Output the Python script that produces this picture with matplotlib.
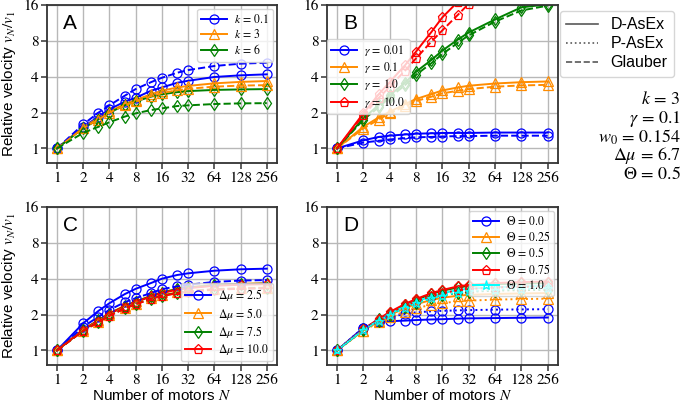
import numpy as np
import matplotlib
matplotlib.use("Agg")
import matplotlib.pyplot as plt
from matplotlib.lines import Line2D

plt.rcParams['mathtext.fontset'] = 'stix'
plt.rcParams['font.family'] = ['Liberation Sans', 'DejaVu Sans']

# ---------------- data ----------------
N = [1, 2, 3, 4, 6, 8, 12, 16, 24, 32, 64, 128, 256]
x_ticks = [1, 2, 4, 8, 16, 32, 64, 128, 256]
x_tick_labels = ['1', '2', '4', '8', '16', '32', '64', '128', '256']
y_ticks = [1, 2, 4, 8, 16]
y_tick_labels = ['1', '2', '4', '8', '16']

# Panel A (k)
A_labels = [r'$k \,=\, 0.1$', r'$k \,=\, 3$', r'$k \,=\, 6$']
A_solid = [
    [1, 1.51, 1.85, 2.13, 2.47, 2.66, 3.05, 3.25, 3.56, 3.70, 3.98, 4.11, 4.19],
    [1, 1.50, 1.80, 2.05, 2.35, 2.55, 2.85, 3.05, 3.25, 3.35, 3.52, 3.62, 3.68],
    [1, 1.48, 1.75, 2.00, 2.30, 2.48, 2.72, 2.85, 2.97, 3.03, 3.10, 3.13, 3.15],
]
A_dashed = [
    [1, 1.59, 2.00, 2.30, 2.77, 3.15, 3.60, 3.92, 4.32, 4.55, 4.92, 5.15, 5.24],
    [1, 1.48, 1.75, 2.00, 2.30, 2.48, 2.75, 2.92, 3.08, 3.17, 3.30, 3.37, 3.40],
    [1, 1.35, 1.52, 1.66, 1.85, 1.97, 2.10, 2.17, 2.27, 2.30, 2.36, 2.39, 2.40],
]

# Panel B (gamma)
nan = np.nan
B_labels = [r'$\gamma \,=\, 0.01$', r'$\gamma \,=\, 0.1$', r'$\gamma \,=\, 1.0$', r'$\gamma \,=\, 10.0$']
B_solid = [
    [1, 1.17, 1.25, 1.28, 1.31, 1.33, 1.34, 1.35, 1.35, 1.35, 1.36, 1.36, 1.36],
    [1, 1.52, 1.82, 2.03, 2.36, 2.60, 2.86, 3.07, 3.25, 3.36, 3.51, 3.60, 3.65],
    [1, 1.79, 2.31, 2.80, 3.56, 4.40, 5.53, 6.63, 8.20, 9.40, 12.1, 15.3, 16.2],
    [1, 1.97, 2.85, 3.60, 5.00, 6.50, 9.50, 12.6, 17.0, nan, nan, nan, nan],
]
B_dashed = [
    [1, 1.12, 1.16, 1.19, 1.22, 1.24, 1.25, 1.26, 1.27, 1.27, 1.28, 1.28, 1.28],
    [1, 1.47, 1.75, 1.97, 2.27, 2.50, 2.72, 2.90, 3.05, 3.15, 3.30, 3.38, 3.42],
    [1, 1.74, 2.22, 2.68, 3.40, 4.15, 5.20, 6.20, 7.70, 8.90, 11.6, 14.4, 15.8],
    [1, 1.90, 2.65, 3.30, 4.50, 5.70, 7.90, 9.80, 13.2, 16.4, nan, nan, nan],
]

# Panel C (delta mu)
C_labels = [r'$\Delta\mu \,=\, 2.5$', r'$\Delta\mu \,=\, 5.0$', r'$\Delta\mu \,=\, 7.5$', r'$\Delta\mu \,=\, 10.0$']
C_solid = [
    [1, 1.69, 2.15, 2.49, 2.97, 3.29, 3.68, 4.00, 4.30, 4.44, 4.67, 4.80, 4.86],
    [1, 1.50, 1.80, 2.05, 2.37, 2.58, 2.88, 3.08, 3.30, 3.40, 3.56, 3.63, 3.67],
    [1, 1.49, 1.79, 2.04, 2.35, 2.56, 2.86, 3.06, 3.27, 3.37, 3.53, 3.60, 3.64],
    [1, 1.49, 1.78, 2.03, 2.34, 2.54, 2.84, 3.03, 3.24, 3.33, 3.49, 3.56, 3.60],
]
C_dashed = [
    [1, 1.58, 1.92, 2.19, 2.54, 2.75, 3.03, 3.27, 3.45, 3.56, 3.76, 3.86, 3.90],
    [1, 1.47, 1.75, 1.98, 2.28, 2.47, 2.73, 2.90, 3.07, 3.16, 3.28, 3.34, 3.37],
    [1, 1.46, 1.74, 1.96, 2.26, 2.45, 2.71, 2.88, 3.04, 3.13, 3.25, 3.31, 3.34],
    [1, 1.46, 1.73, 1.95, 2.25, 2.44, 2.70, 2.86, 3.02, 3.11, 3.23, 3.30, 3.33],
]

# Panel D (Theta)
D_labels = [r'$\Theta \,=\, 0.0$', r'$\Theta \,=\, 0.25$', r'$\Theta \,=\, 0.5$', r'$\Theta \,=\, 0.75$', r'$\Theta \,=\, 1.0$']
D_solid = [
    [1, 1.55, 1.72, 1.76, 1.78, 1.80, 1.82, 1.83, 1.85, 1.86, 1.87, 1.88, 1.89],
    [1, 1.47, 1.76, 1.98, 2.27, 2.45, 2.65, 2.77, 2.88, 2.93, 2.98, 3.01, 3.03],
    [1, 1.50, 1.82, 2.07, 2.42, 2.66, 2.98, 3.17, 3.38, 3.48, 3.60, 3.65, 3.68],
    [1, 1.51, 1.84, 2.10, 2.46, 2.70, 3.03, 3.22, 3.45, 3.55, 3.68, 3.75, 3.79],
    [1, 1.49, 1.79, 2.02, 2.35, 2.56, 2.85, 3.02, 3.22, 3.30, 3.40, 3.45, 3.48],
]
D_dotted = [
    [1, 1.55, 1.75, 1.90, 2.03, 2.09, 2.13, 2.15, 2.17, 2.18, 2.20, 2.21, 2.22],
    [1, 1.46, 1.72, 1.90, 2.12, 2.26, 2.42, 2.50, 2.58, 2.62, 2.67, 2.70, 2.72],
    [1, 1.49, 1.78, 2.00, 2.30, 2.50, 2.75, 2.90, 3.04, 3.11, 3.18, 3.21, 3.23],
    [1, 1.50, 1.80, 2.04, 2.36, 2.58, 2.87, 3.03, 3.20, 3.28, 3.38, 3.42, 3.45],
    [1, 1.48, 1.77, 1.98, 2.28, 2.48, 2.74, 2.89, 3.06, 3.14, 3.24, 3.29, 3.32],
]

param_texts = [r'$k \,=\, 3$', r'$\gamma \,=\, 0.1$', r'$w_0 \,=\, 0.154$', r'$\Delta\mu \,=\, 6.7$', r'$\Theta \,=\, 0.5$']
style_labels = ['D-AsEx', 'P-AsEx', 'Glauber']

colors = ['blue', 'darkorange', 'green', 'red', 'cyan']
markers = ['o', '^', 'd', 'p', '*']

# ---------------- figure ----------------
W, H = 685, 405
fig = plt.figure(figsize=(W / 100, H / 100), dpi=100)

def fr(x0, y0, x1, y1):
    return [x0 / W, 1 - y1 / H, (x1 - x0) / W, (y1 - y0) / H]

axA = fig.add_axes(fr(47, 5, 277, 163))
axB = fig.add_axes(fr(327, 5, 558, 163))
axC = fig.add_axes(fr(47, 207, 277, 365))
axD = fig.add_axes(fr(327, 207, 558, 365))

def style_ax(ax, letter):
    ax.set_xscale('log', base=2)
    ax.set_yscale('log', base=2)
    ax.set_xlim(0.77, 335)
    ax.set_ylim(0.755, 16)
    ax.set_xticks(x_ticks)
    ax.set_xticklabels(x_tick_labels, fontfamily='STIXGeneral', fontsize=11)
    ax.set_yticks(y_ticks)
    ax.set_yticklabels(y_tick_labels, fontfamily='STIXGeneral', fontsize=11)
    ax.minorticks_off()
    ax.grid(True, color='#b8b8b8', lw=1.0)
    ax.set_axisbelow(True)
    for s in ax.spines.values():
        s.set_linewidth(1.3)
        s.set_color('#333333')
    ax.tick_params(direction='out', length=4, width=1.1, color='#333333', pad=2)
    ax.text(0.07, 0.94, letter, transform=ax.transAxes, fontsize=15, va='top', ha='left')

def plot_series(ax, data, ls, labels=None):
    for i, ys in enumerate(data):
        ax.plot(N, ys, ls=ls, color=colors[i], marker=markers[i], ms=6.5, mfc='none',
                mec=colors[i], mew=0.9, lw=1.4, label=(labels[i] if labels else None))

leg_kw = dict(fontsize=8.5, borderpad=0.35, labelspacing=0.2, handlelength=2.2,
              handletextpad=0.6, borderaxespad=0.3)

style_ax(axA, 'A')
plot_series(axA, A_solid, '-', A_labels)
plot_series(axA, A_dashed, '--')
axA.legend(loc='upper right', **leg_kw)

style_ax(axB, 'B')
plot_series(axB, B_solid, '-', B_labels)
plot_series(axB, B_dashed, '--')
axB.legend(loc='upper left', bbox_to_anchor=(-0.015, 0.81), **leg_kw)

style_ax(axC, 'C')
plot_series(axC, C_solid, '-', C_labels)
plot_series(axC, C_dashed, '--')
axC.legend(loc='lower right', **leg_kw)

style_ax(axD, 'D')
plot_series(axD, D_solid, '-', D_labels)
plot_series(axD, D_dotted, ':')
axD.legend(loc='upper right', **leg_kw)

for ax in (axA, axC):
    ax.set_ylabel(r'Relative velocity $v_N/v_1$', fontsize=11, labelpad=4)
for ax in (axC, axD):
    ax.set_xlabel(r'Number of motors $N$', fontsize=11, labelpad=1)

handles = [Line2D([], [], color='0.35', ls=ls, lw=1.2) for ls in ['-', ':', '--']]
fig.legend(handles, style_labels, loc='upper right', bbox_to_anchor=(682 / W, 1 - 3 / H),
           fontsize=11.5, handlelength=2.0, borderpad=0.4, labelspacing=0.25, handletextpad=0.8)

ys_txt = [100, 119, 137, 156, 175]
for t, yy in zip(param_texts, ys_txt):
    fig.text(681 / W, 1 - yy / H, t, ha='right', va='center', fontsize=13)

fig.savefig('out.png', dpi=100)
